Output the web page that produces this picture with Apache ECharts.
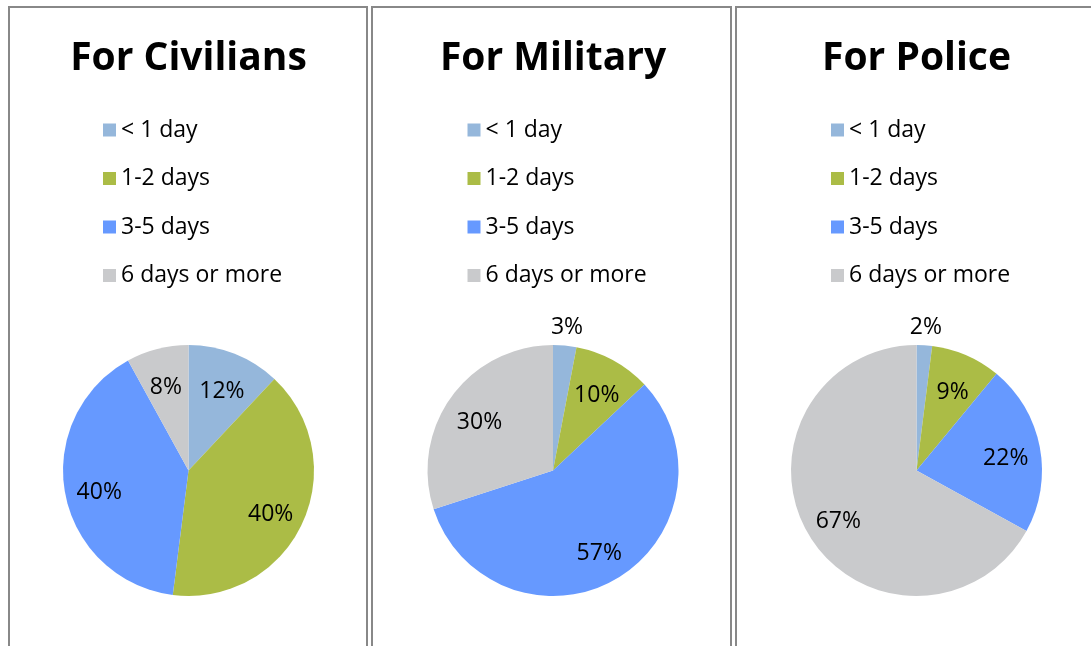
<!DOCTYPE html>
<html><head><meta charset="utf-8">
<script src="https://cdn.jsdelivr.net/npm/echarts@6/dist/echarts.min.js"></script>
<style>html,body{margin:0;padding:0;background:#fff}#c{width:1091px;height:646px}</style>
</head><body><div id="c"></div>
<script>
const categories = ['< 1 day', '1-2 days', '3-5 days', '6 days or more'];
const titles = ['For Civilians', 'For Military', 'For Police'];
const civilians = [12, 40, 40, 8];
const military = [3, 10, 57, 30];
const police = [2, 9, 22, 67];
const colors = ['#95B7DB', '#ABBC46', '#6699FF', '#C9CACC'];
const seriesValues = [civilians, military, police];
const outsideLabels = [[], [0], [0]]; // indices of labels placed outside the pie

const centersX = [188.5, 553, 916.5];
const centerY = 470.5;
const R = 125.5;
const FONT = '"Open Sans", "Noto Sans", sans-serif';
const LABEL_FS = 23;

const chart = echarts.init(document.getElementById('c'), null, {renderer: 'canvas'});

const title = [], legend = [], series = [];
seriesValues.forEach((vals, p) => {
  const cx = centersX[p];
  title.push({
    text: titles[p], left: cx, top: 39, textAlign: 'center', padding: 0,
    textStyle: {fontFamily: FONT, fontWeight: 'bold', fontSize: 39, color: '#000'}
  });
  legend.push({
    orient: 'vertical', left: cx - 85.5, top: 118.5, padding: 0, itemWidth: 13, itemHeight: 13,
    itemGap: 25.5, icon: 'rect', selectedMode: false,
    data: categories.map(c => c + '#' + p),
    formatter: n => n.split('#')[0],
    textStyle: {fontFamily: FONT, fontSize: LABEL_FS, color: '#000', lineHeight: 23}
  });
  const data = vals.map((v, i) => ({name: categories[i] + '#' + p, value: v, itemStyle: {color: colors[i]}}));
  // slices
  series.push({
    type: 'pie', center: [cx, centerY], radius: [0, R], startAngle: 90, clockwise: true,
    animation: false, silent: true, label: {show: false}, labelLine: {show: false},
    data: data
  });
  // labels inside the pie (transparent ring, label sits at 0.7R)
  // and labels just outside the pie (transparent ring, label sits at 1.16R)
  [[R * 0.4, R, false], [R, R * 1.32, true]].forEach(([r0, r1, outer]) => {
    series.push({
      type: 'pie', center: [cx, centerY], radius: [r0, r1], startAngle: 90, clockwise: true,
      animation: false, silent: true, legendHoverLink: false,
      itemStyle: {color: 'rgba(0,0,0,0)'},
      labelLine: {show: false},
      data: vals.map((v, i) => {
        const isOut = outsideLabels[p].includes(i);
        return {
          name: categories[i] + '#' + p + (outer ? 'O' : 'I'), value: v,
          itemStyle: {color: 'rgba(0,0,0,0)'},
          label: {show: isOut === outer, position: 'inside', offset: [0, 5],
            formatter: '{c}%', fontFamily: FONT, fontSize: LABEL_FS, color: '#000'}
        };
      })
    });
  });
});

const border = '#888888';
const graphic = [
  {type: 'polyline', shape: {points: [[9, 646], [9, 7], [367, 7], [367, 646]]}, style: {stroke: border, lineWidth: 2, fill: null}},
  {type: 'polyline', shape: {points: [[372, 646], [372, 7], [731, 7], [731, 646]]}, style: {stroke: border, lineWidth: 2, fill: null}},
  {type: 'polyline', shape: {points: [[736, 646], [736, 7], [1095, 7]]}, style: {stroke: border, lineWidth: 2, fill: null}}
];

chart.setOption({backgroundColor: '#fff', animation: false, title, legend, series, graphic});
</script></body></html>
